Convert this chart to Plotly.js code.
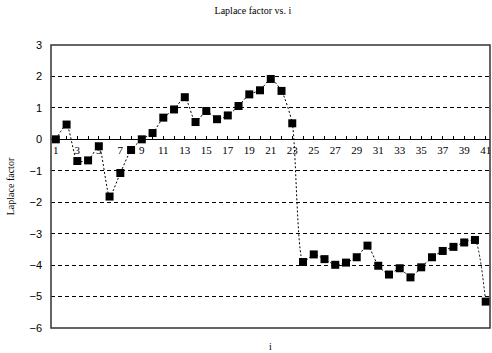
<!DOCTYPE html>
<html>
<head>
<meta charset="utf-8">
<script src="https://cdn.plot.ly/plotly-3.0.1.min.js"></script>
<style>html,body{margin:0;padding:0;background:#fff;}#chart{width:492px;height:353px;}</style>
</head>
<body>
<div id="chart"></div>
<script>
const indexI = [1,2,3,4,5,6,7,8,9,10,11,12,13,14,15,16,17,18,19,20,21,22,23,24,25,26,27,28,29,30,31,32,33,34,35,36,37,38,39,40,41];
const laplaceFactor = [0.00,0.47,-0.69,-0.67,-0.22,-1.82,-1.07,-0.34,0.00,0.20,0.69,0.95,1.34,0.55,0.90,0.64,0.76,1.06,1.43,1.56,1.92,1.54,0.51,-3.90,-3.66,-3.81,-3.99,-3.92,-3.75,-3.38,-4.02,-4.30,-4.10,-4.39,-4.07,-3.75,-3.55,-3.42,-3.28,-3.20,-5.16];
const yTicks = [3,2,1,0,-1,-2,-3,-4,-5,-6];
const titleText = 'Laplace factor vs. i';
const xTitle = 'i';
const yTitle = 'Laplace factor';

const serif = 'Liberation Serif, DejaVu Serif, serif';
const sans = 'Liberation Sans, DejaVu Sans, sans-serif';

const trace = {
  x: indexI, y: laplaceFactor,
  type: 'scatter', mode: 'lines+markers',
  line: {color: '#000', width: 1, dash: '2px,2px', shape: 'spline', smoothing: 0.6},
  marker: {symbol: 'square', size: 8, color: '#000'},
  hoverinfo: 'skip', showlegend: false
};

const layout = {
  width: 492, height: 353,
  margin: {l: 51, r: 2, t: 44.5, b: 24.7},
  paper_bgcolor: '#fff', plot_bgcolor: '#fff',
  title: {text: titleText, font: {family: serif, size: 10, color: '#000'},
          x: 0.514, xref: 'container', y: 1 - 10/353, yref: 'container', yanchor: 'middle', xanchor: 'center'},
  xaxis: {
    range: [0.55, 41.4], anchor: 'free', position: 6/9,
    showline: true, linecolor: '#000', linewidth: 1,
    showgrid: false, zeroline: false,
    tick0: 1, dtick: 2, ticks: 'inside', ticklen: 3, tickcolor: '#000',
    minor: {dtick: 1, ticks: 'inside', ticklen: 3, tickcolor: '#000'},
    tickfont: {family: serif, size: 11, color: '#000'},
    fixedrange: true
  },
  yaxis: {
    range: [-6, 3], tickvals: yTicks,
    showline: false, zeroline: false,
    showgrid: true, gridcolor: '#000', griddash: '4px,3px', gridwidth: 1,
    ticks: '', ticklabelstandoff: 8,
    tickfont: {family: sans, size: 11, color: '#000'},
    title: {text: yTitle, font: {family: serif, size: 10, color: '#000'}, standoff: 12},
    automargin: false, fixedrange: true
  },
  shapes: [{type: 'rect', xref: 'paper', yref: 'paper', x0: 0, x1: 1, y0: 0, y1: 1,
            line: {color: '#333', width: 1.5}}],
  annotations: [{text: xTitle, xref: 'paper', yref: 'paper', x: 0.5, y: 0, yshift: -18,
                 xanchor: 'center', yanchor: 'middle', showarrow: false,
                 font: {family: serif, size: 10, color: '#000'}}]
};

Plotly.newPlot('chart', [trace], layout, {displayModeBar: false, staticPlot: true});
</script>
</body>
</html>
